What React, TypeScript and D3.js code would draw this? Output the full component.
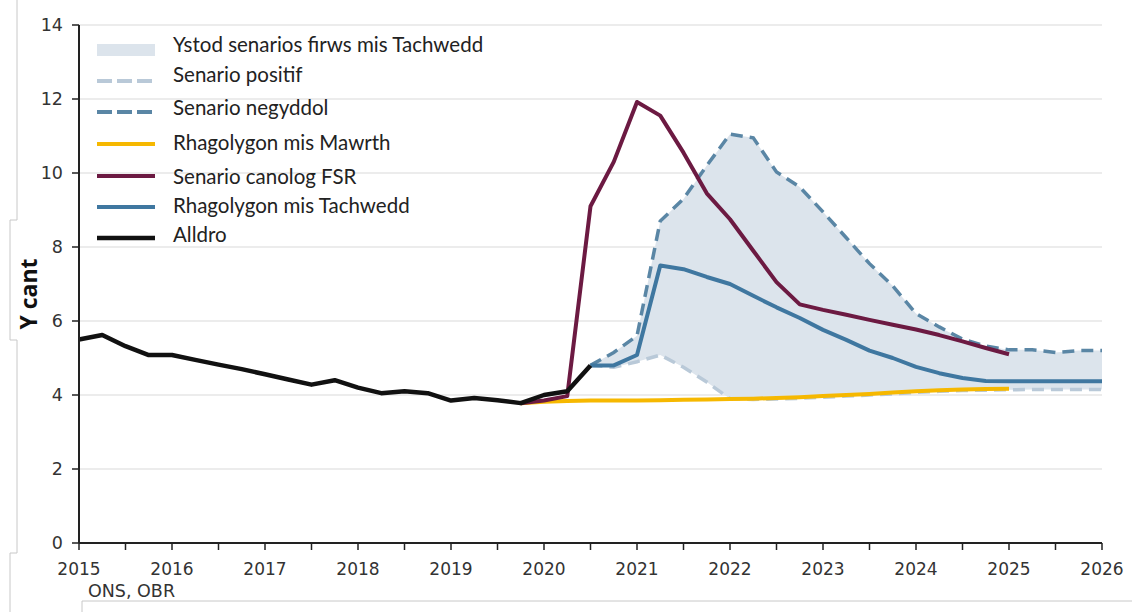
import React from "react";
import * as d3 from "d3";

// ---- Data (quarterly, year fractions) ----
const alldroYears = [2015, 2015.25, 2015.5, 2015.75, 2016, 2016.25, 2016.5, 2016.75, 2017, 2017.25, 2017.5, 2017.75, 2018, 2018.25, 2018.5, 2018.75, 2019, 2019.25, 2019.5, 2019.75, 2020, 2020.25, 2020.5];
const alldroValues = [5.5, 5.62, 5.32, 5.08, 5.08, 4.95, 4.82, 4.7, 4.56, 4.42, 4.28, 4.4, 4.2, 4.05, 4.1, 4.05, 3.85, 3.92, 3.86, 3.78, 4.0, 4.1, 4.8];

const fsrYears = [2019.75, 2020, 2020.25, 2020.5, 2020.75, 2021, 2021.25, 2021.5, 2021.75, 2022, 2022.25, 2022.5, 2022.75, 2023, 2023.25, 2023.5, 2023.75, 2024, 2024.25, 2024.5, 2024.75, 2025];
const fsrValues = [3.78, 3.85, 3.97, 9.1, 10.3, 11.92, 11.55, 10.55, 9.45, 8.75, 7.9, 7.05, 6.45, 6.3, 6.17, 6.03, 5.9, 5.77, 5.62, 5.45, 5.27, 5.1];

const novYears = [2020.5, 2020.75, 2021, 2021.25, 2021.5, 2021.75, 2022, 2022.25, 2022.5, 2022.75, 2023, 2023.25, 2023.5, 2023.75, 2024, 2024.25, 2024.5, 2024.75, 2025, 2025.25, 2025.5, 2025.75, 2026];
const novValues = [4.8, 4.8, 5.08, 7.5, 7.4, 7.19, 7.0, 6.68, 6.37, 6.08, 5.76, 5.49, 5.2, 5.0, 4.76, 4.59, 4.46, 4.38, 4.37, 4.37, 4.37, 4.37, 4.37];

const negYears = novYears;
const negValues = [4.8, 5.15, 5.6, 8.7, 9.3, 10.2, 11.05, 10.95, 10.03, 9.62, 8.95, 8.25, 7.55, 6.95, 6.2, 5.84, 5.51, 5.32, 5.22, 5.22, 5.15, 5.2, 5.2];

const posYears = novYears;
const posValues = [4.8, 4.75, 4.9, 5.08, 4.75, 4.35, 3.9, 3.88, 3.89, 3.91, 3.94, 3.97, 4.0, 4.03, 4.07, 4.1, 4.12, 4.13, 4.14, 4.15, 4.15, 4.15, 4.15];

const marYears = [2019.75, 2020, 2020.25, 2020.5, 2020.75, 2021, 2021.25, 2021.5, 2021.75, 2022, 2022.25, 2022.5, 2022.75, 2023, 2023.25, 2023.5, 2023.75, 2024, 2024.25, 2024.5, 2024.75, 2025];
const marValues = [3.78, 3.82, 3.84, 3.85, 3.85, 3.85, 3.86, 3.87, 3.88, 3.89, 3.9, 3.92, 3.94, 3.97, 4.0, 4.03, 4.07, 4.1, 4.13, 4.15, 4.16, 4.17];

const yTicks = [0, 2, 4, 6, 8, 10, 12, 14];
const xLabelYears = [2015, 2016, 2017, 2018, 2019, 2020, 2021, 2022, 2023, 2024, 2025, 2026];
const xTickYears = d3.range(2015, 2026.01, 0.5);

const legendLabels = [
  "Ystod senarios firws mis Tachwedd",
  "Senario positif",
  "Senario negyddol",
  "Rhagolygon mis Mawrth",
  "Senario canolog FSR",
  "Rhagolygon mis Tachwedd",
  "Alldro",
];

const C = {
  band: "#dce4ec",
  pos: "#b9c9d8",
  neg: "#5a86a5",
  mar: "#f6b800",
  fsr: "#6c1a42",
  nov: "#3f77a0",
  alldro: "#111111",
};

export default function App() {
  const x = d3.scaleLinear().domain([2015, 2026]).range([79, 1102]);
  const y = d3.scaleLinear().domain([0, 14]).range([543, 25]);

  const line = (xs: number[], vs: number[]) =>
    d3.line<number>().x((_, i) => x(xs[i])).y((v) => y(v))(vs) as string;

  const area = d3
    .area<number>()
    .x((_, i) => x(novYears[i]))
    .y0((_, i) => y(posValues[i]))
    .y1((_, i) => y(negValues[i]))(novYears.map((_, i) => i)) as string;

  const tickFont = "'DejaVu Sans', sans-serif";
  const legFont = "Lato, 'Open Sans', sans-serif";

  const legendTextY = [45, 75, 108, 143, 177, 206, 235];
  const legendSwY = [50, 81, 112, 144, 176, 207, 238];
  const sx1 = 97;
  const sx2 = 155;
  const swatches = [
    <rect key="s0" x={sx1} y={legendSwY[0] - 6} width={sx2 - sx1} height={12} fill={C.band} />,
    <line key="s1" x1={sx1} x2={sx2} y1={legendSwY[1]} y2={legendSwY[1]} stroke={C.pos} strokeWidth={4} strokeDasharray="15,5" />,
    <line key="s2" x1={sx1} x2={sx2} y1={legendSwY[2]} y2={legendSwY[2]} stroke={C.neg} strokeWidth={4} strokeDasharray="15,5" />,
    <line key="s3" x1={sx1} x2={sx2} y1={legendSwY[3]} y2={legendSwY[3]} stroke={C.mar} strokeWidth={4} />,
    <line key="s4" x1={sx1} x2={sx2} y1={legendSwY[4]} y2={legendSwY[4]} stroke={C.fsr} strokeWidth={4} />,
    <line key="s5" x1={sx1} x2={sx2} y1={legendSwY[5]} y2={legendSwY[5]} stroke={C.nov} strokeWidth={4} />,
    <line key="s6" x1={sx1} x2={sx2} y1={legendSwY[6]} y2={legendSwY[6]} stroke={C.alldro} strokeWidth={4.5} />,
  ];

  return (
    <svg width={1132} height={612} style={{ position: "absolute", left: 0, top: 0, background: "#fff" }}>
      {/* screenshot frame artefacts */}
      <path d="M17,0 V220 H10 V340 H17 V553 H10 V612" fill="none" stroke="#c8c8c8" strokeWidth={1} />
      <path d="M82,612 V601 H1132" fill="none" stroke="#c8c8c8" strokeWidth={1} />

      {/* gridlines */}
      {yTicks.filter((t) => t > 0).map((t) => (
        <line key={"g" + t} x1={x(2015)} x2={x(2026)} y1={y(t)} y2={y(t)} stroke="#dadada" strokeWidth={1.2} />
      ))}

      {/* band */}
      <path d={area} fill={C.band} />

      {/* series */}
      <path d={line(posYears, posValues)} fill="none" stroke={C.pos} strokeWidth={3.5} strokeDasharray="12,7" />
      <path d={line(negYears, negValues)} fill="none" stroke={C.neg} strokeWidth={3.5} strokeDasharray="12,7" />
      <path d={line(marYears, marValues)} fill="none" stroke={C.mar} strokeWidth={4} strokeLinejoin="round" />
      <path d={line(novYears, novValues)} fill="none" stroke={C.nov} strokeWidth={4} strokeLinejoin="round" />
      <path d={line(fsrYears, fsrValues)} fill="none" stroke={C.fsr} strokeWidth={4} strokeLinejoin="round" />
      <path d={line(alldroYears, alldroValues)} fill="none" stroke={C.alldro} strokeWidth={4.5} strokeLinejoin="round" />

      {/* axes */}
      <line x1={x(2015)} x2={x(2015)} y1={y(14)} y2={y(0)} stroke="#222" strokeWidth={2} />
      <line x1={x(2015)} x2={x(2026)} y1={y(0)} y2={y(0)} stroke="#222" strokeWidth={2} />
      {yTicks.map((t) => (
        <g key={"yt" + t}>
          <line x1={x(2015) - 7} x2={x(2015)} y1={y(t)} y2={y(t)} stroke="#222" strokeWidth={1.5} />
          <text x={x(2015) - 16} y={y(t)} dy="0.36em" textAnchor="end" fontFamily={tickFont} fontSize={17.5} fill="#333">
            {t}
          </text>
        </g>
      ))}
      {xTickYears.map((t) => (
        <line key={"xt" + t} x1={x(t)} x2={x(t)} y1={y(0)} y2={y(0) + 7} stroke="#222" strokeWidth={1.5} />
      ))}
      {xLabelYears.map((t) => (
        <text key={"xl" + t} x={x(t)} y={575} textAnchor="middle" fontFamily={tickFont} fontSize={17} fill="#333">
          {t}
        </text>
      ))}
      <text x={88} y={597} fontFamily={tickFont} fontSize={17.5} fill="#333">ONS, OBR</text>

      {/* y axis title */}
      <text transform="translate(37,294) rotate(-90)" textAnchor="middle" fontFamily="'Open Sans', sans-serif" fontWeight="bold" fontSize={23} fill="#111">
        Y cant
      </text>

      {/* legend */}
      {swatches}
      {legendLabels.map((l, i) => (
        <text key={"lg" + i} x={173} y={legendTextY[i]} dy="0.36em" fontFamily={legFont} fontSize={20.5} fill="#222">
          {l}
        </text>
      ))}
    </svg>
  );
}
